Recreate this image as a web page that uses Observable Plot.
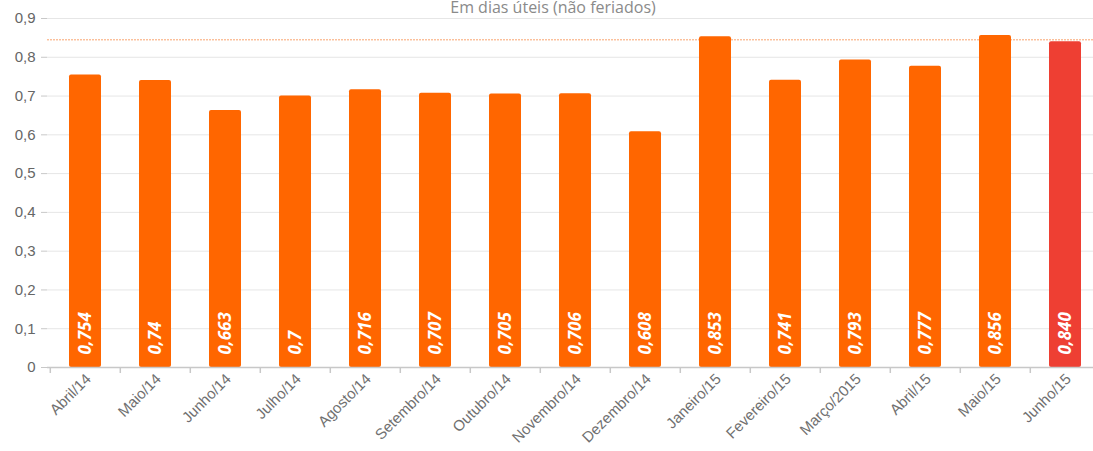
<!DOCTYPE html>
<html>
<head>
<meta charset="utf-8">
<script src="https://cdn.jsdelivr.net/npm/d3@7"></script>
<script src="https://cdn.jsdelivr.net/npm/@observablehq/plot@0.6"></script>
<style>
  html, body { margin: 0; padding: 0; background: #fff; overflow: hidden; width: 1093px; height: 451px; }
  #wrap { position: relative; width: 1093px; height: 451px; overflow: hidden; }
  #title { position: absolute; top: -4px; left: 0; width: 1106px; text-align: center;
           font-family: "Open Sans", sans-serif; font-size: 16px; color: #8a8a8a; white-space: nowrap; }
  #chart { position: absolute; top: 0; left: 0; width: 1110px; }
  #chart svg { max-width: none !important; }
</style>
</head>
<body>
<div id="wrap">
  <div id="title">Em dias úteis (não feriados)</div>
  <div id="chart"></div>
</div>
<script>
const months = ["Abril/14","Maio/14","Junho/14","Julho/14","Agosto/14","Setembro/14","Outubro/14","Novembro/14","Dezembro/14","Janeiro/15","Fevereiro/15","Março/2015","Abril/15","Maio/15","Junho/15"];
const values = [0.754,0.74,0.663,0.7,0.716,0.707,0.705,0.706,0.608,0.853,0.741,0.793,0.777,0.856,0.840];
const labels = ["0,754","0,74","0,663","0,7","0,716","0,707","0,705","0,706","0,608","0,853","0,741","0,793","0,777","0,856","0,840"];
const highlight = [false,false,false,false,false,false,false,false,false,false,false,false,false,false,true];
const referenceValue = [0.845];
const yTicks = [0,0.1,0.2,0.3,0.4,0.5,0.6,0.7,0.8,0.9];

const data = months.map((m, i) => ({month: m, value: values[i], label: labels[i], hl: highlight[i]}));

const W = 1110, ML = 47, MR = 7;
const step = (W - ML - MR) / months.length;

const fmt = d => d === 0 ? "0" : String(d).replace(".", ",");

const chart = Plot.plot({
  width: W,
  height: 451,
  marginLeft: ML,
  marginRight: MR,
  marginTop: 18,
  marginBottom: 84,
  style: {fontFamily: "Liberation Sans, Arial, sans-serif", background: "transparent", maxWidth: "none"},
  x: {domain: months, paddingInner: 0.545, paddingOuter: 0.2725, label: null},
  y: {domain: [0, 0.9], label: null},
  marks: [
    Plot.ruleY(yTicks, {stroke: "#e6e6e6", strokeWidth: 1}),
    Plot.ruleY(referenceValue, {stroke: "#f9a46e", strokeWidth: 1, strokeDasharray: "2,1"}),
    Plot.barY(data, {x: "month", y: "value", fill: d => d.hl ? "#ee3f33" : "#ff6600", rx: 2}),
    Plot.text(data, {x: "month", y: 0, text: "label", rotate: -90, textAnchor: "start", dy: -13,
      fill: "white", fontSize: 17, fontWeight: "bold", fontStyle: "italic", fontFamily: "Open Sans, sans-serif"}),
    Plot.ruleX([0], {stroke: "#c8c8c8", strokeWidth: 1.5}),
    Plot.ruleY([0], {stroke: "#c8c8c8", strokeWidth: 1.5}),
    Plot.ruleX(months, {x: d => d, dx: -step / 2, y1: 0, y2: 0, insetBottom: -6, stroke: "#c8c8c8", strokeWidth: 1.5}),
    Plot.ruleX(months.slice(-1), {x: d => d, dx: step / 2, y1: 0, y2: 0, insetBottom: -6, stroke: "#c8c8c8", strokeWidth: 1.5}),
    Plot.axisY(yTicks, {tickFormat: fmt, tickSize: 6, tickPadding: 6, stroke: "#c8c8c8", fill: "#666", fontSize: 15, anchor: "left"}),
    Plot.axisX({tickSize: 0, tickRotate: -45, tickPadding: 9, fill: "#707070", fontSize: 15, label: null, dx: 3})
  ]
});
document.getElementById("chart").appendChild(chart);
</script>
</body>
</html>
